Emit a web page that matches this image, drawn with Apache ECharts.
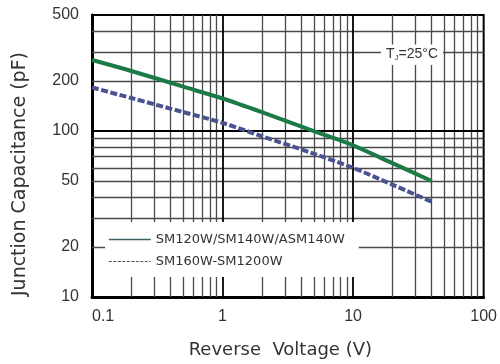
<!DOCTYPE html>
<html>
<head>
<meta charset="utf-8">
<script src="https://cdn.jsdelivr.net/npm/echarts@6/dist/echarts.min.js"></script>
<style>html,body{margin:0;padding:0;background:#fff}#c{width:500px;height:364px}</style>
</head>
<body>
<div id="c"></div>
<script>
const voltage = [0.1, 0.2, 0.5, 1, 2, 5, 10, 20, 40];
const capSM120 = [268, 230, 185, 157, 130, 100, 82, 64, 50];
const capSM160 = [183, 158, 130, 112, 93, 73, 60, 47.5, 37.5];
const seriesNames = ['SM120W/SM140W/ASM140W', 'SM160W-SM1200W'];
const xTickLabels = [0.1, 1, 10, 100];
const yTickLabels = [10, 20, 50, 100, 200, 500];
const minorX = [0.2,0.3,0.4,0.5,0.6,0.7,0.8,0.9,2,3,4,5,6,7,8,9,20,30,40,50,60,70,80,90];
const majorX = [1, 10];
const minorY = [20,30,40,50,60,70,80,90,200,300,400];
const majorY = [100];

const chart = echarts.init(document.getElementById('c'), null, {renderer: 'canvas'});
const minorStyle = {color: '#4a4a4a', width: 1.3, type: 'solid'};
const majorStyle = {color: '#000', width: 1.8, type: 'solid'};
const gridLines = [].concat(
  minorX.map(v => ({xAxis: v, lineStyle: minorStyle})),
  minorY.map(v => ({yAxis: v, lineStyle: minorStyle})),
  majorX.map(v => ({xAxis: v, lineStyle: majorStyle})),
  majorY.map(v => ({yAxis: v, lineStyle: majorStyle}))
);

chart.setOption({
  animation: false,
  backgroundColor: '#fff',
  textStyle: {fontFamily: 'Liberation Sans'},
  title: {
    text: '{t|T}{s|J}{t|=25°C}',
    left: 381, top: 44,
    backgroundColor: '#fff',
    padding: [3, 5, 3, 5],
    z: 10,
    textStyle: {
      rich: {
        t: {fontFamily: 'Liberation Sans', fontSize: 14, color: '#333', fontWeight: 'normal'},
        s: {fontFamily: 'Liberation Sans', fontSize: 8, color: '#333', verticalAlign: 'bottom', padding: [7, 0, 0, 0], fontWeight: 'normal'}
      }
    }
  },
  grid: {left: 92, right: 13, top: 15, bottom: 66, show: true, borderColor: '#000', borderWidth: 2},
  legend: {
    orient: 'vertical',
    left: 105, top: 222,
    z: 10,
    backgroundColor: '#fff',
    padding: [11, 14, 9, 3],
    itemWidth: 42, itemHeight: 12, itemGap: 9,
    textStyle: {fontFamily: 'DejaVu Sans', fontSize: 13, color: '#333'},
    data: [
      {name: seriesNames[0], itemStyle: {opacity: 0}, lineStyle: {color: '#3f6262', width: 1.6, type: 'solid'}},
      {name: seriesNames[1], itemStyle: {opacity: 0}, lineStyle: {color: '#555', width: 1.2, type: [3, 1.5]}}
    ]
  },
  xAxis: {
    type: 'log', logBase: 10, min: 0.1, max: 100,
    name: 'Reverse  Voltage (V)', nameLocation: 'middle', nameGap: 44,
    nameTextStyle: {fontFamily: 'DejaVu Sans', fontSize: 18, color: '#333', padding: [0, 15, 0, 0]},
    axisLine: {show: true, lineStyle: {color: '#000', width: 3}},
    axisTick: {show: false},
    splitLine: {show: false},
    axisLabel: {
      customValues: xTickLabels,
      formatter: v => String(v),
      fontSize: 16, color: '#333', margin: 12,
      alignMinLabel: 'left'
    }
  },
  yAxis: {
    type: 'log', logBase: 10, min: 10, max: 500,
    name: 'Junction Capacitance (pF)', nameLocation: 'middle', nameGap: 62,
    nameTextStyle: {fontFamily: 'DejaVu Sans', fontSize: 19, color: '#333', padding: [0, 36, 0, 0]},
    axisLine: {show: true, lineStyle: {color: '#000', width: 3}},
    axisTick: {show: false},
    splitLine: {show: false},
    axisLabel: {
      customValues: yTickLabels,
      formatter: v => String(v),
      fontSize: 16, color: '#333', margin: 13
    }
  },
  series: [
    {
      name: 'grid', type: 'line', data: [], z: 1, silent: true,
      markLine: {silent: true, z: 1, symbol: ['none', 'none'], label: {show: false}, animation: false, data: gridLines}
    },
    {
      name: seriesNames[0], type: 'line', z: 3,
      data: voltage.map((v, i) => [v, capSM120[i]]),
      symbol: 'none', smooth: 0.3,
      lineStyle: {color: '#1c7a46', width: 4}
    },
    {
      name: seriesNames[1], type: 'line', z: 3,
      data: voltage.map((v, i) => [v, capSM160[i]]),
      symbol: 'none', smooth: 0.3,
      lineStyle: {color: '#4a5290', width: 4, type: [7, 2.5]}
    }
  ]
});
</script>
</body>
</html>
